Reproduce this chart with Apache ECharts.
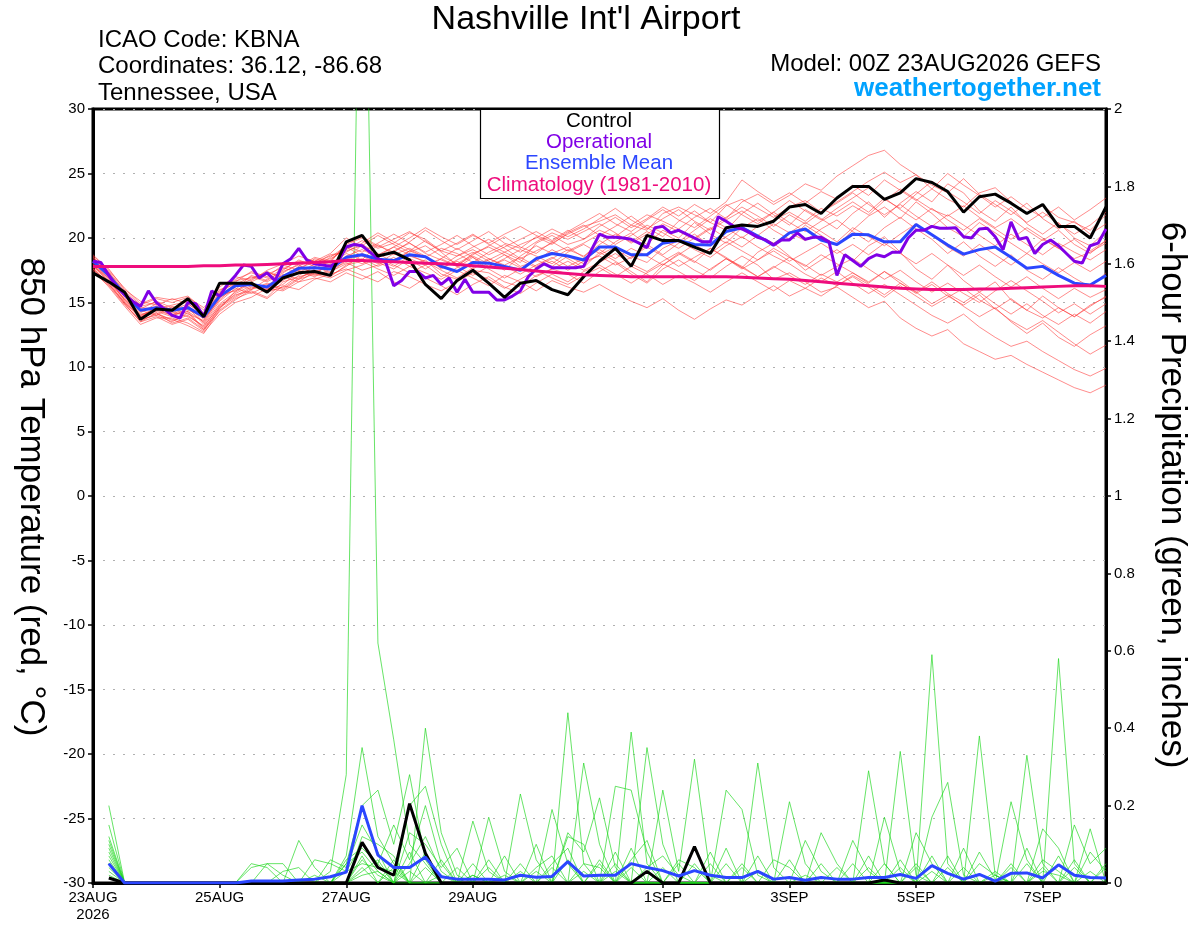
<!DOCTYPE html>
<html>
<head>
<meta charset="utf-8">
<script src="https://cdn.jsdelivr.net/npm/echarts@6/dist/echarts.min.js"></script>
<style>
html,body{margin:0;padding:0;background:#fff;}
#chart{width:1200px;height:927px;}
</style>
</head>
<body>
<div id="chart"></div>
<script>
// ---------- axis ticks ----------
const TICK_HOURS = [0, 48, 96, 144, 216, 264, 312, 360];
const TICK_LABELS = ['23AUG\n2026', '25AUG', '27AUG', '29AUG', '1SEP', '3SEP', '5SEP', '7SEP'];

// ---------- 850 hPa temperature (deg C), 6-hourly 0..384h ----------
const controlT = [17.3,16.6,15.8,13.7,14.5,14.4,15.3,13.9, 16.5,16.5,16.5,15.8,16.9,17.3,17.4,17.1,
  19.7,20.2,18.6,18.9,18.3,16.4,15.3,16.7, 17.5,16.5,15.4,16.5,16.7,16.0,15.6,17.0,
  18.2,19.2,17.8,20.2,19.8,19.8,19.3,18.8, 20.8,21.0,20.9,21.3,22.4,22.6,21.9,23.1,
  24.0,24.0,23.0,23.5,24.6,24.3,23.6,22.0, 23.2,23.4,22.7,21.9,22.6,20.9,20.9,20.0, 22.4];

const meanT = [18.2,17.1,15.6,14.4,14.6,14.4,14.6,13.9, 15.5,16.3,16.4,16.2,17.0,17.65,17.7,17.6,
  18.5,18.7,18.35,18.25,18.7,18.55,17.8,17.4, 18.1,18.05,17.8,17.5,18.4,18.8,18.6,18.3,
  19.3,19.3,18.7,18.7,19.6,19.8,19.5,19.45, 20.5,20.8,20.15,19.45,20.4,20.7,19.85,19.5,
  20.3,20.25,19.7,19.7,21.05,20.25,19.45,18.75, 19.1,19.3,18.5,17.65,17.8,17.1,16.5,16.35, 17.1];

const climT = [17.8,17.8,17.8,17.8,17.8,17.8,17.8,17.85, 17.85,17.9,17.9,17.95,18.0,18.05,18.1,18.15,
  18.25,18.25,18.2,18.15,18.1,18.05,18.0,17.95, 17.85,17.75,17.65,17.55,17.45,17.35,17.25,17.15,
  17.1,17.05,17.0,17.0,17.0,17.0,17.0,17.0, 17.0,16.95,16.9,16.85,16.8,16.7,16.6,16.5,
  16.4,16.3,16.2,16.1,16.05,16.0,16.0,16.0, 16.05,16.05,16.1,16.15,16.2,16.25,16.3,16.3, 16.25];

// operational run, 3-hourly 0..384h
const operT = [18.2,18.1,17.1,16.2,15.6,15.1,14.7,15.9,15.0,14.5,14.0,13.8,15.0,14.9,13.9,15.9,
  15.5,16.4,17.1,17.9,17.8,16.9,17.3,16.7,18.0,18.4,19.2,18.3,18.0,17.9,17.8,18.2,
  19.3,19.5,19.4,18.9,18.4,18.1,16.3,16.7,17.4,17.4,16.9,17.1,16.4,16.9,15.8,16.8,
  15.8,15.8,15.8,15.2,15.2,15.5,15.9,17.0,17.6,18.0,17.7,17.7,17.7,17.7,17.8,19.1,
  20.3,20.05,20.05,20.0,19.9,19.6,19.25,20.8,20.9,20.4,20.6,20.3,20.0,19.7,19.7,21.65,
  21.3,20.9,20.7,20.4,20.05,19.85,19.45,19.85,19.85,20.4,19.9,20.05,20.05,19.7,17.1,18.7,
  18.25,17.8,18.4,18.7,18.55,18.9,18.9,20.0,20.6,20.6,20.9,20.75,20.75,20.8,20.1,20.0,
  20.7,20.75,20.1,19.1,21.25,19.9,20.05,18.8,19.5,19.85,19.4,18.8,18.2,18.05,19.4,19.6, 20.7];

// ensemble members (temperature)
const memT01 = [18.5,17.4,15.9,14.8,15.3,15.0,15.4,14.6, 15.9,16.8,17.3,16.9,17.6,18.2,18.0,18.4,
  19.1,19.8,19.2,19.6,20.4,19.9,19.0,18.6,19.3,19.9,19.2,18.4,19.0,19.6,20.3,20.9,
  21.3,21.8,21.0,20.6,21.9,22.4,21.8,21.2,22.5,23.0,22.3,21.6,22.4,22.9,22.0,22.8,
  23.6,24.4,25.1,24.3,24.9,23.8,23.0,22.4,23.5,23.9,22.8,21.9,22.5,21.6,21.2,20.6,21.8];
const memT02 = [17.9,16.7,15.2,13.9,14.2,13.6,14.0,13.1, 14.8,15.6,15.9,15.4,16.6,17.0,17.3,17.0,
  17.9,18.2,17.6,17.1,17.8,18.3,17.2,16.8,17.5,17.3,16.6,16.2,17.1,17.6,17.2,16.5,
  17.4,18.1,17.2,16.5,17.6,18.3,17.5,16.9,17.8,18.6,17.9,16.8,17.3,16.6,15.8,16.2,
  15.4,14.6,15.1,13.8,13.0,12.4,12.9,11.8,11.2,10.6,10.9,10.2,9.6,9.0,8.4,8.0,8.6];
const memT03 = [18.1,17.0,15.4,14.2,14.9,14.1,14.3,13.5, 15.3,16.5,16.0,16.8,17.4,17.9,17.2,18.0,
  18.8,18.3,19.5,18.7,19.2,18.6,17.6,18.3,18.9,18.2,17.5,18.6,19.4,18.8,19.3,18.5,
  19.8,19.1,18.4,19.5,20.6,20.0,21.2,20.3,19.6,20.8,21.5,20.6,19.9,21.0,20.2,19.4,
  20.6,21.7,22.4,21.5,22.8,21.9,20.8,20.1,21.2,20.4,19.6,18.8,19.9,19.2,18.4,18.9,19.6];
const memT04 = [17.6,16.5,14.9,13.5,13.9,13.3,13.7,12.8, 14.5,15.9,16.6,15.8,16.2,17.1,17.8,17.3,
  18.3,19.5,18.8,18.1,19.0,19.8,18.9,17.9,18.6,18.0,18.7,17.8,18.2,19.1,18.4,17.7,
  18.9,18.2,17.4,16.6,17.9,18.8,18.1,19.2,18.5,17.7,18.9,19.6,18.6,17.5,18.3,19.1,
  18.2,19.4,20.1,18.9,17.6,16.8,17.9,16.7,15.8,16.6,15.2,14.4,15.5,14.6,13.9,14.8,15.4];
const memT05 = [18.4,17.3,15.8,14.6,14.5,14.8,15.1,14.2, 16.0,16.4,17.0,16.6,17.3,18.0,18.3,17.9,
  18.6,19.1,18.5,19.0,19.6,18.8,18.3,17.8,18.8,19.3,18.7,18.1,19.6,20.2,19.5,19.9,
  20.6,20.1,21.0,21.8,21.3,20.7,21.6,22.3,21.5,22.8,23.4,22.6,23.3,24.2,23.7,24.8,
  25.6,26.4,26.8,25.7,24.9,24.1,23.5,24.6,23.4,22.6,21.8,22.7,21.5,20.7,21.3,20.3,21.1];
const memT06 = [17.8,16.9,15.5,14.0,14.4,14.0,14.8,13.4, 15.1,16.1,15.7,16.3,17.2,16.8,17.6,18.3,
  19.3,18.6,18.0,18.8,18.3,17.6,18.4,19.2,18.5,17.8,18.4,19.1,18.6,18.0,18.9,19.5,
  18.8,19.7,20.4,19.5,18.7,19.6,20.3,19.4,20.1,20.9,20.2,21.1,20.4,19.8,20.7,21.4,
  20.5,19.7,20.8,21.6,20.7,19.9,18.8,19.7,18.6,17.8,18.7,17.5,16.8,17.7,16.9,16.2,17.3];
const memT07 = [18.0,16.8,15.1,13.8,14.7,14.3,13.9,13.2, 14.7,15.5,16.2,15.9,16.4,17.4,17.0,17.6,
  18.1,17.5,17.9,18.5,17.8,17.3,16.8,17.5,16.9,16.3,17.1,16.6,15.9,16.7,16.2,15.8,
  16.4,15.7,15.1,14.6,15.3,14.4,13.7,14.5,15.2,14.8,15.6,16.3,15.5,16.1,16.9,16.3,
  17.1,16.4,15.6,16.5,15.8,14.9,15.6,14.7,13.9,14.6,13.5,12.6,13.4,12.3,11.6,12.5,13.2];
const memT08 = [18.6,17.6,16.0,15.1,14.8,15.3,14.9,14.0, 15.7,16.6,17.4,17.0,17.9,17.5,18.4,18.1,
  19.6,20.1,19.4,18.9,19.7,20.6,19.8,19.1,19.8,20.5,19.6,19.2,20.1,19.5,20.4,21.0,
  20.2,20.9,21.7,20.8,20.1,21.3,22.1,21.2,20.6,21.9,22.7,21.8,21.0,22.2,21.5,20.7,
  21.9,22.8,21.6,22.7,23.6,22.8,24.2,23.5,22.1,21.3,22.4,21.1,20.3,21.2,20.0,19.4,20.5];
const memT09 = [17.7,16.4,15.0,13.7,14.0,13.5,14.2,12.9, 14.3,15.2,16.0,16.5,16.1,16.9,17.5,17.1,
  17.8,18.7,18.1,17.6,18.4,17.9,17.0,17.7,18.5,17.6,16.9,17.6,18.3,17.8,18.6,18.0,
  18.7,19.3,18.6,18.1,19.2,19.8,19.1,18.5,19.4,20.1,19.3,18.6,18.0,17.2,16.6,17.4,
  16.5,15.7,16.4,15.6,14.8,14.0,13.4,14.1,13.1,12.3,11.6,12.0,11.2,10.5,9.8,9.3,9.9];
const memT10 = [18.3,17.2,15.7,14.5,15.1,14.6,14.5,13.8, 15.5,16.2,16.8,17.4,16.9,17.7,18.1,18.6,
  19.0,19.4,20.2,19.5,18.9,19.4,18.6,18.0,18.7,19.4,20.1,19.3,18.8,19.7,19.0,19.6,
  20.3,19.5,20.2,21.0,20.4,19.7,20.6,21.5,20.8,20.0,20.9,21.4,22.0,21.3,22.3,21.7,
  22.5,21.8,22.9,23.8,23.0,22.2,21.7,22.5,21.6,20.8,21.5,20.6,19.8,20.6,19.5,18.8,19.8];
const memT11 = [17.5,16.2,14.7,13.3,13.8,13.8,13.4,12.7, 14.1,15.0,15.4,16.1,15.9,16.6,16.9,16.6,
  17.3,16.8,17.4,16.6,16.1,16.9,16.3,15.6,16.4,17.0,16.2,15.7,16.5,17.2,16.6,17.4,
  17.9,17.2,16.5,17.3,18.0,17.4,16.7,17.6,18.4,17.8,17.0,17.7,18.5,17.9,17.1,17.8,
  18.4,17.6,16.8,17.5,16.6,15.8,16.5,15.7,15.0,15.9,16.7,15.9,15.1,14.2,14.9,14.1,14.9];
const memT12 = [18.2,17.1,15.6,14.3,14.7,14.5,14.1,13.6, 15.4,16.0,17.1,16.7,17.5,18.3,17.8,18.5,
  19.4,18.9,19.6,20.3,19.6,18.9,19.5,20.2,19.4,18.7,19.3,19.9,20.5,19.8,20.6,19.9,
  20.9,21.6,20.8,21.5,22.4,21.7,22.6,21.9,22.8,24.5,23.6,22.8,23.5,22.7,23.6,23.0,
  24.1,23.3,24.5,23.7,22.9,23.8,25.0,24.1,23.3,22.4,23.2,22.3,21.6,22.4,21.4,22.2,23.1];
const memT13 = [17.9,16.6,15.3,14.1,14.3,13.9,14.6,13.3, 14.9,15.8,16.5,16.2,17.0,16.6,17.4,17.8,
  18.5,18.0,18.6,19.3,18.7,18.1,17.8,18.6,19.1,18.4,17.9,18.5,17.8,18.4,19.1,18.6,
  19.5,20.3,19.7,20.5,19.8,19.2,20.0,20.8,20.0,19.3,20.2,19.6,20.4,21.2,20.5,19.7,
  20.8,20.1,19.4,20.3,21.1,20.2,19.3,18.6,19.5,18.7,17.9,18.8,18.0,17.3,18.1,17.4,18.2];
const memT14 = [18.0,16.9,15.2,14.0,14.6,14.2,14.7,13.7, 15.2,16.3,16.4,16.0,17.1,17.7,17.3,17.9,
  18.2,18.8,18.3,17.8,18.6,18.2,17.5,16.9,17.7,18.4,17.8,17.2,17.9,18.5,17.8,18.4,
  19.1,18.4,19.2,18.6,17.9,18.7,19.5,18.8,19.7,19.0,18.3,19.2,18.5,17.8,18.7,18.0,
  17.3,16.6,17.4,16.5,15.7,16.4,15.5,14.8,15.6,14.5,13.6,12.9,13.6,12.7,11.8,11.0,11.7];
const memT15 = [18.7,17.5,16.1,14.9,15.4,15.2,15.5,14.4, 16.2,17.0,16.7,17.5,18.0,18.6,18.2,18.8,
  20.0,19.3,18.7,19.3,20.0,20.8,20.1,19.5,20.2,19.6,20.3,20.9,20.2,19.7,20.5,21.2,
  21.9,21.1,20.5,21.4,22.2,21.4,20.8,21.7,22.6,21.8,21.1,22.0,22.9,22.1,21.4,22.3,
  23.1,23.9,23.0,22.3,23.4,24.4,23.6,22.8,21.9,22.9,22.1,21.2,22.0,21.1,20.3,21.0,22.0];
const memT16 = [17.4,16.3,14.8,13.6,14.1,13.7,13.2,12.6, 14.4,15.3,15.8,15.3,16.3,16.0,16.8,17.2,
  17.6,17.1,16.6,17.4,17.0,16.4,15.9,16.6,17.3,16.8,16.1,16.8,17.5,16.9,16.4,17.1,
  17.7,17.0,17.8,17.2,16.4,17.1,16.5,15.8,16.6,17.3,16.6,15.9,16.7,16.1,15.5,16.3,
  17.0,16.2,15.4,16.3,15.5,14.7,15.4,16.1,15.2,14.5,15.3,14.4,13.8,14.6,13.9,14.7,15.5];
const memT17 = [18.3,17.0,15.5,14.4,14.0,14.7,14.4,13.9, 15.6,15.9,16.6,17.2,17.7,17.3,18.0,18.7,
  18.9,19.6,20.4,19.7,19.1,18.5,19.2,18.8,18.1,18.9,19.5,18.9,19.7,20.4,19.9,20.5,
  21.1,20.4,19.6,20.3,21.1,20.5,19.9,20.7,21.6,22.4,21.7,20.9,21.8,21.1,22.0,22.7,
  23.5,22.6,21.8,22.6,21.7,20.9,21.8,21.0,20.2,19.4,20.3,19.5,18.7,19.6,18.9,18.3,19.1];
const memT18 = [17.8,16.6,15.0,13.9,14.5,14.0,14.3,13.0, 14.6,15.7,16.3,16.0,16.7,17.5,17.1,17.4,
  18.0,18.4,17.8,18.3,19.0,18.5,17.7,18.2,17.6,18.3,18.9,18.3,17.7,18.2,17.5,18.2,
  18.6,17.9,18.5,19.3,18.6,17.8,18.5,19.2,18.4,17.6,18.3,19.0,18.2,18.9,19.6,18.8,
  19.5,18.7,19.6,18.8,18.0,18.8,17.9,17.1,17.9,17.0,16.2,17.0,16.1,15.3,16.1,15.4,16.0];
const memT19 = [18.5,17.3,15.7,14.7,15.0,14.4,14.9,14.1, 15.8,16.7,16.9,17.3,17.0,17.8,18.5,18.2,
  19.5,20.0,19.3,19.9,20.5,19.7,19.0,19.6,20.3,19.5,18.9,19.5,20.0,20.7,20.1,20.7,
  21.5,22.3,21.4,20.7,21.5,22.2,21.3,20.6,21.4,22.1,21.3,22.0,21.2,20.5,21.3,22.0,
  22.8,22.0,23.1,22.2,21.4,22.3,21.4,20.6,21.5,20.7,19.9,20.8,20.0,19.2,19.9,19.0,19.8];
const memT20 = [17.6,16.4,14.9,13.5,14.2,13.4,13.8,12.9, 14.6,15.4,16.1,16.4,16.0,16.8,17.2,16.9,
  17.5,17.9,18.5,17.9,17.3,17.9,18.4,17.8,17.1,17.8,18.3,17.7,17.0,17.6,18.2,17.5,
  18.1,18.8,18.0,17.4,18.2,18.9,18.2,17.5,18.4,17.7,17.0,17.8,17.1,16.4,17.2,16.6,
  17.3,16.5,17.4,16.7,15.8,16.6,15.7,15.0,15.8,14.9,14.1,14.9,14.0,13.3,14.1,13.4,14.3];
const MEMBERS_T = [memT01,memT02,memT03,memT04,memT05,memT06,memT07,memT08,memT09,memT10,
  memT11,memT12,memT13,memT14,memT15,memT16,memT17,memT18,memT19,memT20];

// ---------- 6-hour precipitation (inches), 6-hourly 0..384h (none at 0h) ----------
const controlP = [null,0.013,0,0,0,0,0,0, 0,0,0,0,0,0,0,0,
  0,0.105,0.04,0.02,0.205,0.077,0,0, 0,0,0,0,0,0,0,0,
  0,0,0,0.03,0,0,0.094,0, 0,0,0,0,0,0,0,0,
  0,0,0.008,0,0,0,0,0, 0,0,0,0,0,0,0,0, 0];
const meanP = [null,0.05,0,0,0,0,0,0, 0,0,0.005,0.005,0.005,0.008,0.01,0.016,
  0.028,0.2,0.072,0.04,0.04,0.067,0.016,0.01, 0.01,0.01,0.008,0.02,0.015,0.017,0.055,0.018,
  0.02,0.02,0.05,0.04,0.032,0.018,0.032,0.02, 0.014,0.014,0.03,0.01,0.014,0.007,0.014,0.01,
  0.01,0.014,0.014,0.022,0.012,0.045,0.025,0.01, 0.022,0.005,0.025,0.026,0.013,0.047,0.02,0.014, 0.013];

const memP01 = [null,0.2,0,0,0,0,0,0, 0,0,0,0,0,0,0,0.03, 0.28,3.0,0.62,0.37,0.1,0.05,0,0,
  0.02,0,0,0,0,0,0.44,0.05, 0,0,0,0,0,0,0.05,0, 0,0,0,0,0,0.02,0,0,
  0,0,0,0,0,0.59,0.05,0, 0,0,0,0,0.03,0.02,0,0, 0];
const memP02 = [null,0.15,0,0,0,0,0,0, 0,0,0.04,0.05,0.02,0,0,0, 0.07,0.35,0.12,0.05,0,0.4,0.13,0.02,
  0,0,0,0.05,0,0,0,0.31, 0.1,0,0.39,0.05,0,0,0,0, 0,0,0.03,0,0,0,0,0,
  0,0.04,0,0,0,0,0,0, 0.38,0.02,0,0,0,0,0.04,0, 0];
const memP03 = [null,0.12,0,0,0,0,0,0, 0,0,0,0,0,0.11,0.04,0, 0.05,0.2,0.24,0.1,0.28,0.06,0,0,
  0,0.17,0.03,0,0,0,0,0, 0,0.25,0.24,0.08,0,0,0,0, 0,0,0,0,0.21,0.05,0,0,
  0,0,0,0.34,0.02,0,0,0, 0,0,0,0.33,0.05,0,0,0, 0];
const memP04 = [null,0.1,0,0,0,0,0,0, 0,0,0,0.05,0.05,0,0,0.06, 0.04,0.15,0.08,0,0.2,0.25,0.1,0,
  0.16,0.03,0,0,0,0.19,0.05,0, 0,0,0,0.35,0.1,0,0,0, 0,0,0.31,0.04,0,0,0,0,
  0,0,0,0,0,0.17,0.26,0.02, 0,0,0,0,0,0.58,0.05,0, 0];
const memP05 = [null,0.08,0,0,0,0,0,0, 0,0,0,0,0,0,0.06,0.05, 0.03,0.1,0.05,0.15,0.06,0.2,0.05,0,
  0,0,0,0.23,0.06,0,0,0, 0,0.08,0,0,0.24,0.03,0.32,0.02, 0,0,0,0,0,0,0,0,
  0,0.29,0.05,0,0,0,0,0, 0,0,0.21,0.06,0,0,0,0.14, 0];
const memP06 = [null,0.07,0,0,0,0,0,0, 0,0,0,0,0,0,0,0, 0.05,0.08,0.03,0,0.13,0.1,0.04,0.09,
  0,0,0,0,0.1,0,0.13,0.08, 0.22,0.04,0,0,0,0,0,0, 0.24,0.19,0.02,0,0,0,0,0,
  0,0,0.17,0.03,0,0,0,0, 0.05,0.02,0,0,0.14,0.09,0,0, 0];
const memP07 = [null,0.06,0,0,0,0,0,0, 0,0,0,0,0.03,0.04,0,0, 0,0.12,0.1,0.07,0,0,0.02,0,
  0,0,0.07,0,0,0.05,0.09,0, 0,0,0.06,0.11,0,0,0.09,0, 0,0,0,0,0,0,0.13,0.05,
  0,0,0,0,0.13,0.05,0,0.09, 0,0,0,0,0,0,0.15,0.05, 0.09];
const memP08 = [null,0.05,0,0,0,0,0,0, 0,0,0,0,0,0,0,0, 0.03,0.05,0.04,0.03,0,0,0,0,
  0.02,0,0,0,0,0,0,0.05, 0.04,0,0,0.04,0.07,0.02,0,0, 0.05,0,0,0,0,0,0,0,
  0.11,0.03,0,0,0,0,0.07,0, 0,0.03,0,0.05,0,0,0,0, 0.05];
const memP09 = [null,0.04,0,0,0,0,0,0, 0,0,0,0,0,0,0,0, 0,0.03,0.06,0,0.05,0.12,0.03,0,
  0,0,0,0,0.04,0.07,0,0, 0,0.03,0,0,0,0.06,0.04,0, 0,0,0,0.06,0.04,0,0,0,
  0,0,0,0.06,0,0.07,0,0, 0,0,0.04,0,0.06,0.03,0,0, 0];
const memP10 = [null,0.03,0,0,0,0,0,0, 0,0,0,0,0,0,0,0, 0,0.06,0.02,0,0.03,0,0,0.04,
  0,0.06,0,0,0,0,0,0.03, 0,0,0.09,0,0,0,0,0.08, 0,0.05,0,0,0,0.11,0.03,0,
  0,0,0,0,0.04,0,0,0, 0.08,0.01,0,0,0,0,0,0.08, 0.03];
const memP11 = [null,0.09,0,0,0,0,0,0, 0,0,0,0,0,0,0,0, 0,0.04,0,0.04,0,0.08,0,0,
  0,0,0,0.03,0,0,0.06,0, 0.06,0,0,0,0.04,0,0,0, 0.09,0,0,0,0,0,0,0.04,
  0,0,0.05,0,0,0,0.04,0, 0,0,0,0.09,0,0,0.06,0, 0];
const memP12 = [null,0.11,0,0,0,0,0,0, 0,0,0,0,0,0,0,0, 0.06,0.09,0.05,0,0,0,0.06,0,
  0.05,0,0,0,0,0,0.12,0.1, 0,0.05,0,0,0,0.05,0,0, 0,0,0.07,0,0,0,0,0,
  0.05,0,0,0,0.05,0,0,0.04, 0,0,0,0,0.04,0,0,0, 0.04];
const memP13 = [null,0.05,0,0,0,0,0,0, 0,0,0.05,0.04,0,0,0.02,0, 0,0.07,0,0.06,0,0.04,0,0,
  0,0,0.02,0,0,0.04,0,0, 0,0,0,0.03,0,0,0,0.05, 0,0,0,0,0.06,0,0,0,
  0,0.07,0,0,0,0.03,0,0, 0,0,0.05,0,0,0.07,0,0, 0];
const memP14 = [null,0.02,0,0,0,0,0,0, 0,0,0,0,0,0,0,0, 0,0.02,0.03,0,0.08,0,0,0,
  0,0.04,0,0,0.03,0,0,0, 0.05,0,0.04,0,0,0,0,0, 0,0.04,0,0,0,0,0.05,0,
  0,0,0,0.04,0,0,0,0, 0,0.02,0,0,0,0,0,0.03, 0];
const MEMBERS_P = [memP01,memP02,memP03,memP04,memP05,memP06,memP07,memP08,memP09,memP10,
  memP11,memP12,memP13,memP14];

// ---------- helpers ----------
const HOURS6 = controlT.map((_, i) => i * 6);
const HOURS3 = operT.map((_, i) => i * 3);
const pairs = (hrs, vals) => vals.map((v, i) => [hrs[i], v]);

const FONT = '"Liberation Sans", Arial, Helvetica, sans-serif';
const C_CTRL = '#000000', C_OPER = '#8000e6', C_MEAN = '#2b46ff', C_CLIM = '#ee0c7c';
const C_RED = 'rgba(255,55,55,0.72)', C_GREEN = 'rgba(30,215,30,0.85)';

const series = [];
MEMBERS_P.forEach((m, k) => series.push({
  name: 'precip member ' + (k + 1), type: 'line', yAxisIndex: 1, symbol: 'none', silent: true,
  data: pairs(HOURS6, m), lineStyle: { color: C_GREEN, width: 0.8 }, z: 2
}));
MEMBERS_T.forEach((m, k) => series.push({
  name: 'temp member ' + (k + 1), type: 'line', yAxisIndex: 0, symbol: 'none', silent: true,
  data: pairs(HOURS6, m), lineStyle: { color: C_RED, width: 0.8 }, z: 2
}));
series.push({ name: 'Control precip', type: 'line', yAxisIndex: 1, symbol: 'none',
  data: pairs(HOURS6, controlP), lineStyle: { color: C_CTRL, width: 3 }, z: 3 });
series.push({ name: 'Mean precip', type: 'line', yAxisIndex: 1, symbol: 'none',
  data: pairs(HOURS6, meanP), lineStyle: { color: C_MEAN, width: 3 }, z: 3 });
series.push({ name: 'Ensemble Mean', type: 'line', yAxisIndex: 0, symbol: 'none',
  data: pairs(HOURS6, meanT), lineStyle: { color: C_MEAN, width: 3 }, z: 3 });
series.push({ name: 'Operational', type: 'line', yAxisIndex: 0, symbol: 'none',
  data: pairs(HOURS3, operT), lineStyle: { color: C_OPER, width: 3 }, z: 3 });
series.push({ name: 'Control', type: 'line', yAxisIndex: 0, symbol: 'none',
  data: pairs(HOURS6, controlT), lineStyle: { color: C_CTRL, width: 3 }, z: 3 });
series.push({ name: 'Climatology', type: 'line', yAxisIndex: 0, symbol: 'none',
  data: pairs(HOURS6, climT), lineStyle: { color: C_CLIM, width: 3 }, z: 3 });

const chart = echarts.init(document.getElementById('chart'), null, { renderer: 'canvas' });
const txt = (x, y, text, size, color, align, extra) => Object.assign({
  type: 'text', x: x, y: y, z: 100,
  style: { text: text, fontSize: size, fontFamily: FONT, fill: color, align: align, verticalAlign: 'middle' }
}, extra || {});

chart.setOption({
  animation: false,
  backgroundColor: '#ffffff',
  grid: { left: 93, right: 94, top: 109, bottom: 44, show: true, borderColor: '#000', borderWidth: 3,
          containLabel: false, outerBoundsMode: 'none' },
  xAxis: {
    type: 'value', min: 0, max: 384,
    axisLine: { show: true, onZero: false, lineStyle: { color: '#000', width: 3 } },
    axisTick: { show: true, customValues: TICK_HOURS, length: 5, lineStyle: { color: '#000', width: 1.5 } },
    axisLabel: { show: true, customValues: TICK_HOURS, margin: 6, fontSize: 15, fontFamily: FONT, color: '#000',
      lineHeight: 17,
      formatter: v => { const k = TICK_HOURS.indexOf(Math.round(v)); return k >= 0 ? TICK_LABELS[k] : ''; } },
    splitLine: { show: false }
  },
  yAxis: [
    { type: 'value', min: -30, max: 30, interval: 5, position: 'left',
      axisLine: { show: true, onZero: false, lineStyle: { color: '#000', width: 3 } },
      axisTick: { show: true, length: 5, lineStyle: { color: '#000', width: 1.5 } },
      axisLabel: { margin: 8, fontSize: 15, fontFamily: FONT, color: '#000' },
      splitLine: { show: true, lineStyle: { color: '#b0b0b0', width: 1.2, type: [2, 8] } } },
    { type: 'value', min: 0, max: 2, interval: 0.2, position: 'right',
      axisLine: { show: true, onZero: false, lineStyle: { color: '#000', width: 3 } },
      axisTick: { show: true, length: 5, lineStyle: { color: '#000', width: 1.5 } },
      axisLabel: { margin: 8, fontSize: 15, fontFamily: FONT, color: '#000',
        formatter: v => String(Math.round(v * 10) / 10) },
      splitLine: { show: false } }
  ],
  series: series,
  graphic: [
    txt(586, 20, "Nashville Int'l Airport", 34, '#000', 'center'),
    txt(98, 40, 'ICAO Code: KBNA', 24, '#000', 'left'),
    txt(98, 66, 'Coordinates: 36.12, -86.68', 24, '#000', 'left'),
    txt(98, 93, 'Tennessee, USA', 24, '#000', 'left'),
    txt(1101, 64, 'Model: 00Z 23AUG2026 GEFS', 24, '#000', 'right'),
    { type: 'text', x: 1101, y: 89, z: 100,
      style: { text: 'weathertogether.net', fontSize: 26, fontWeight: 'bold', fontFamily: FONT,
               fill: '#00a2ff', align: 'right', verticalAlign: 'middle' } },
    { type: 'rect', z: 99, shape: { x: 480.5, y: 109.5, width: 239, height: 89 },
      style: { fill: '#fff', stroke: '#000', lineWidth: 1.2 } },
    txt(599, 121, 'Control', 20.5, C_CTRL, 'center'),
    txt(599, 142, 'Operational', 20.5, C_OPER, 'center'),
    txt(599, 163, 'Ensemble Mean', 20.5, C_MEAN, 'center'),
    txt(599, 185, 'Climatology (1981-2010)', 20.5, C_CLIM, 'center'),
    txt(31, 497, '850 hPa Temperature (red, °C)', 35, '#000', 'center',
        { rotation: -Math.PI / 2 }),
    txt(1172, 495, '6-hour Precipitation (green, inches)', 35, '#000', 'center',
        { rotation: -Math.PI / 2 })
  ]
});
</script>
</body>
</html>
